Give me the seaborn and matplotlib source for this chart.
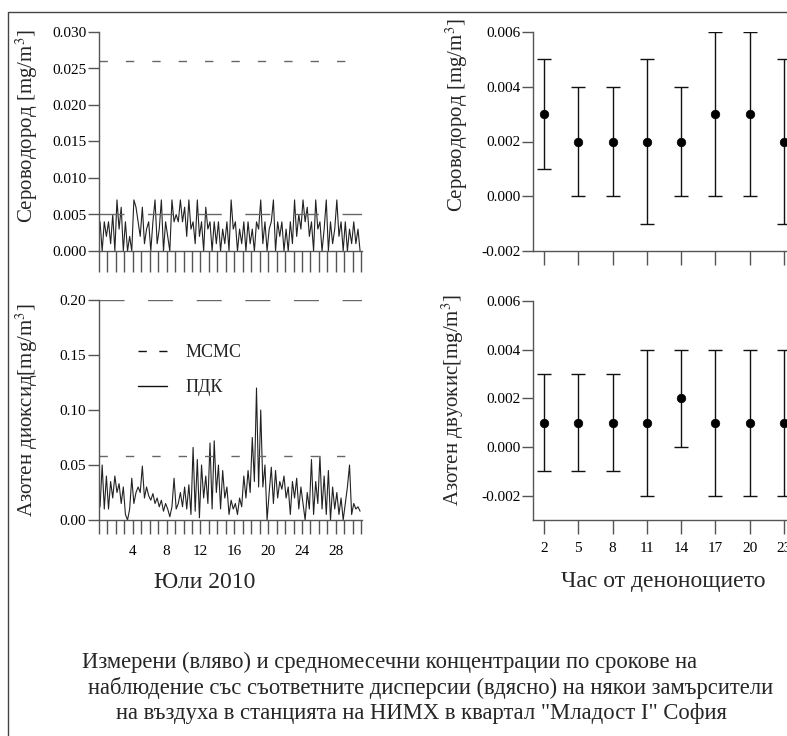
import numpy as np
import pandas as pd
import matplotlib.pyplot as plt
import seaborn as sns
from matplotlib.lines import Line2D
from matplotlib.ticker import FormatStrFormatter

# July 2010, four readings a day; H2S in 0.001 mg/m3, NO2 in mg/m3
h2s_july = [4, 0, 4, 2, 4, 1, 5, 0, 7, 3, 6, 0, 4, 0, 2, 0,
            7, 6, 4, 2, 6, 1, 3, 4, 0, 4, 7, 1, 3, 7, 0, 4,
            2, 0, 7, 4, 5, 4, 7, 4, 6, 2, 7, 3, 4, 1, 7, 2,
            4, 0, 6, 3, 4, 0, 4, 1, 4, 0, 3, 1, 4, 0, 7, 3,
            4, 0, 3, 1, 4, 0, 4, 1, 3, 0, 4, 3, 7, 1, 4, 0,
            3, 4, 7, 0, 4, 2, 4, 0, 3, 0, 4, 1, 7, 2, 5, 3,
            7, 4, 6, 2, 4, 0, 7, 3, 4, 0, 3, 7, 0, 4, 1, 3,
            7, 2, 4, 0, 4, 0, 3, 1, 4, 1, 3, 0]
no2_july = [0.012, 0.050, 0.010, 0.040, 0.010, 0.035, 0.020, 0.040,
            0.025, 0.033, 0.015, 0.030, 0.005, 0.000, 0.010, 0.038,
            0.015, 0.025, 0.030, 0.025, 0.049, 0.020, 0.030, 0.022,
            0.018, 0.024, 0.015, 0.020, 0.012, 0.018, 0.008, 0.015,
            0.010, 0.003, 0.012, 0.038, 0.010, 0.015, 0.025, 0.012,
            0.030, 0.010, 0.032, 0.005, 0.066, 0.008, 0.055, 0.002,
            0.050, 0.020, 0.040, 0.015, 0.070, 0.010, 0.072, 0.025,
            0.050, 0.010, 0.045, 0.020, 0.030, 0.005, 0.018, 0.010,
            0.015, 0.005, 0.020, 0.012, 0.040, 0.020, 0.045, 0.025,
            0.075, 0.035, 0.120, 0.030, 0.100, 0.030, 0.050, 0.000,
            0.025, 0.048, 0.015, 0.045, 0.020, 0.035, 0.028, 0.040,
            0.020, 0.030, 0.005, 0.035, 0.020, 0.038, 0.010, 0.030,
            0.015, 0.000, 0.025, 0.010, 0.055, 0.005, 0.035, 0.015,
            0.058, 0.010, 0.040, 0.005, 0.045, 0.000, 0.030, 0.010,
            0.025, 0.005, 0.020, 0.000, 0.015, 0.030, 0.050, 0.005,
            0.015, 0.010, 0.012, 0.008]
h2s_limits = {"МСМС": 0.026, "ПДК": 0.005}
no2_limits = {"МСМС": 0.058, "ПДК": 0.20}

# monthly means by observation hour with their spread
hours = [2, 5, 8, 11, 14, 17, 20, 23]
h2s_mean = [0.003, 0.002, 0.002, 0.002, 0.002, 0.003, 0.003, 0.002]
h2s_low = [0.001, 0.000, 0.000, -0.001, 0.000, 0.000, 0.000, -0.001]
h2s_high = [0.005, 0.004, 0.004, 0.005, 0.004, 0.006, 0.006, 0.005]
no2_mean = [0.001, 0.001, 0.001, 0.001, 0.002, 0.001, 0.001, 0.001]
no2_low = [-0.001, -0.001, -0.001, -0.002, 0.000, -0.002, -0.002, -0.002]
no2_high = [0.003, 0.003, 0.003, 0.004, 0.004, 0.004, 0.004, 0.004]

caption = ['Измерени (вляво) и средномесечни концентрации по срокове на',
           'наблюдение със съответните дисперсии (вдясно) на някои замърсители',
           'на въздуха в станцията на НИМХ в квартал "Младост I" София']

sns.set_style("ticks")
plt.rcParams['font.family'] = ['Liberation Serif', 'DejaVu Serif']
plt.rcParams['mathtext.fontset'] = 'stix'
plt.rcParams['axes.unicode_minus'] = False

grey = '#555555'
dash_short = (6, 13)
dash_long = (18, 17)

df = pd.DataFrame({'day': np.arange(len(no2_july)) / 4 + 0.125,
                   'h2s': np.array(h2s_july) / 1000, 'no2': no2_july})
hr = pd.DataFrame({'hour': hours, 'h2s': h2s_mean, 'no2': no2_mean,
                   'h2s_lo': h2s_low, 'h2s_hi': h2s_high,
                   'no2_lo': no2_low, 'no2_hi': no2_high})

W, H = 787, 736
fig = plt.figure(figsize=(W / 100, H / 100), dpi=100)


def px_axes(x0, ytop, w, h):
    return fig.add_axes([x0 / W, 1 - (ytop + h) / H, w / W, h / H])


ax1 = px_axes(99, 32, 263, 219)
ax2 = px_axes(99, 300, 263, 220)
ax3 = px_axes(533, 32, 268, 219)
ax4 = px_axes(533, 301, 268, 219)

# left: measured series
sns.lineplot(data=df, x='day', y='h2s', ax=ax1, color='#222222', lw=0.8)
sns.lineplot(data=df, x='day', y='no2', ax=ax2, color='#222222', lw=0.8)
for ax, lim in [(ax1, h2s_limits), (ax2, no2_limits)]:
    ax.axhline(lim["МСМС"], color='#666666', lw=1, dashes=dash_short)
    ax.axhline(lim["ПДК"], color='#666666', lw=1, dashes=dash_long)
    ax.set_xlim(0, 31.1)
    ax.set_xticks(range(0, 32))

ax1.set_ylim(0, 0.030)
ax1.set_yticks(np.arange(0, 0.0301, 0.005))
ax1.yaxis.set_major_formatter(FormatStrFormatter('%.3f'))
ax1.set_xticklabels([])
ax1.tick_params(axis='x', length=15)

ax2.set_ylim(0, 0.20)
ax2.set_yticks([0, 0.05, 0.10, 0.15, 0.20])
ax2.yaxis.set_major_formatter(FormatStrFormatter('%.2f'))
ax2.set_xticklabels([str(d) if d % 4 == 0 and 0 < d < 30 else '' for d in range(0, 32)])
ax2.tick_params(axis='x', length=10, pad=8)

leg_handles = [Line2D([], [], color='#111111', lw=1, dashes=(6, 9)),
               Line2D([], [], color='#111111', lw=1)]
ax2.legend(leg_handles, list(no2_limits.keys()), loc='upper left',
           bbox_to_anchor=(0.15, 0.80), frameon=False, fontsize=13,
           handlelength=1.6, handletextpad=1.0, labelspacing=1.0,
           borderpad=0, borderaxespad=0)

# right: means by hour with dispersion
for ax, col in [(ax3, 'h2s'), (ax4, 'no2')]:
    ax.errorbar(hr['hour'], hr[col],
                yerr=[hr[col] - hr[col + '_lo'], hr[col + '_hi'] - hr[col]],
                fmt='none', ecolor='#111111', elinewidth=1, capsize=5, capthick=1)
    sns.scatterplot(data=hr, x='hour', y=col, ax=ax, color='black', s=38,
                    edgecolor='black', zorder=3)
    ax.set_xlim(1.03, 24.5)
    ax.set_xticks(hours)
    ax.yaxis.set_major_formatter(FormatStrFormatter('%.3f'))

ax3.set_ylim(-0.002, 0.006)
ax3.set_yticks([-0.002, 0, 0.002, 0.004, 0.006])
ax3.set_xticklabels([])
ax3.tick_params(axis='x', length=10)
ax4.set_ylim(-0.003, 0.006)
ax4.set_yticks([-0.002, 0, 0.002, 0.004, 0.006])
ax4.tick_params(axis='x', length=10, pad=6)

labels = [(ax1, 'Сероводород [mg/m$^3$]', -0.274, 0.57),
          (ax2, 'Азотен диоксид[mg/m$^3$]', -0.274, 0.50),
          (ax3, 'Сероводород [mg/m$^3$]', -0.284, 0.62),
          (ax4, 'Азотен двуокис[mg/m$^3$]', -0.298, 0.548)]
for ax, text, lx, ly in labels:
    ax.set_xlabel('')
    ax.set_ylabel(text, fontsize=15, va='center')
    ax.yaxis.set_label_coords(lx, ly)
    sns.despine(ax=ax)
    for s in ['left', 'bottom']:
        ax.spines[s].set_color(grey)
        ax.spines[s].set_linewidth(1)
    ax.tick_params(colors=grey, labelcolor='black', labelsize=11, width=1)
    ax.tick_params(axis='y', length=8, pad=1)

fig.text(205 / W, 1 - 582 / H, 'Юли 2010', fontsize=17, ha='center', va='center')
fig.text(663 / W, 1 - 582 / H, 'Час от денонощието', fontsize=17, ha='center', va='center')
for line, (cx, cy) in zip(caption, [(390, 662), (431, 688), (421, 713)]):
    fig.text(cx / W, 1 - cy / H, line, fontsize=16.3, ha='center', va='center')

# frame of the scanned figure (left and top edges only)
fig.add_artist(Line2D([8 / W, 8 / W, 1], [0, 1 - 12 / H, 1 - 12 / H],
                      transform=fig.transFigure, color='#444444', lw=1))

fig.savefig('out.png', dpi=100)
